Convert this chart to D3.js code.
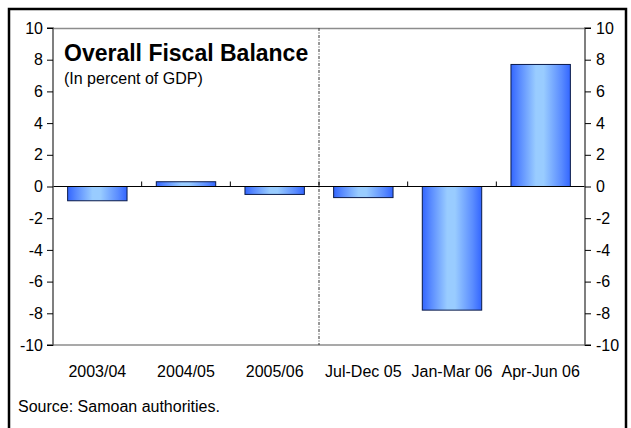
<!DOCTYPE html>
<html>
<head>
<meta charset="utf-8">
<script src="https://cdn.jsdelivr.net/npm/d3@7"></script>
<style>
  html, body { margin: 0; padding: 0; background: #fff; }
  svg { display: block; font-family: "Liberation Sans", Arial, sans-serif; }
</style>
</head>
<body>
<svg id="chart" width="631" height="428"></svg>
<script>
// Overall fiscal balance, in percent of GDP
const categories = ["2003/04", "2004/05", "2005/06", "Jul-Dec 05", "Jan-Mar 06", "Apr-Jun 06"];
const balance = [-0.9, 0.3, -0.5, -0.7, -7.8, 7.7];
const yTicks = [-10, -8, -6, -4, -2, 0, 2, 4, 6, 8, 10];

const svg = d3.select("#chart");
const plot = { left: 53, right: 585, top: 28, bottom: 345 };
const FONT = 16;

// outer frame
svg.append("rect")
  .attr("x", 9).attr("y", 9)
  .attr("width", 617).attr("height", 425)
  .attr("fill", "none").attr("stroke", "#000").attr("stroke-width", 2.5);

const x = d3.scaleBand()
  .domain(categories)
  .range([plot.left, plot.right])
  .paddingInner(0.33)
  .paddingOuter(0.165);

const y = d3.scaleLinear().domain([-10, 10]).range([plot.bottom, plot.top]);

// horizontal bar gradient: dark blue edges, light centre
const defs = svg.append("defs");
const grad = defs.append("linearGradient")
  .attr("id", "barFill").attr("x1", "0").attr("x2", "1").attr("y1", "0").attr("y2", "0");
[[0, "#3366ff"], [0.15, "#5a8cff"], [0.42, "#99ccff"], [0.55, "#99ccff"], [0.85, "#5a8cff"], [1, "#3366ff"]]
  .forEach(([o, c]) => grad.append("stop").attr("offset", o).attr("stop-color", c));

// plot frame lines (top and bottom grey)
svg.append("line")
  .attr("x1", plot.left).attr("x2", plot.right)
  .attr("y1", plot.top + 0.5).attr("y2", plot.top + 0.5)
  .attr("stroke", "#8c8c8c").attr("stroke-width", 1.5);
svg.append("line")
  .attr("x1", plot.left).attr("x2", plot.right)
  .attr("y1", plot.bottom).attr("y2", plot.bottom)
  .attr("stroke", "#8c8c8c").attr("stroke-width", 1.5);

// separator between annual and quarterly data
const sepX = plot.left + (plot.right - plot.left) / 2;
svg.append("line")
  .attr("x1", sepX).attr("x2", sepX)
  .attr("y1", plot.top).attr("y2", plot.bottom)
  .attr("stroke", "#333").attr("stroke-width", 1)
  .attr("stroke-dasharray", "3,1.5,1,1.5");

// bars
svg.append("g").selectAll("rect")
  .data(categories.map((c, i) => ({ c, v: balance[i] })))
  .join("rect")
  .attr("x", d => x(d.c))
  .attr("width", x.bandwidth())
  .attr("y", d => y(Math.max(0, d.v)))
  .attr("height", d => Math.abs(y(d.v) - y(0)))
  .attr("fill", "url(#barFill)")
  .attr("stroke", "#0a1a4a").attr("stroke-width", 1);

// zero line with category separators
svg.append("line")
  .attr("x1", plot.left).attr("x2", plot.right)
  .attr("y1", y(0)).attr("y2", y(0))
  .attr("stroke", "#000").attr("stroke-width", 1.2);
const step = x.step();
svg.append("g").selectAll("line")
  .data(d3.range(1, categories.length))
  .join("line")
  .attr("x1", i => plot.left + i * step).attr("x2", i => plot.left + i * step)
  .attr("y1", y(0)).attr("y2", y(0) - 5)
  .attr("stroke", "#000").attr("stroke-width", 1);

// y axes, left and right (plain hyphen for negatives)
const fmt = d => String(d);
const leftAxis = d3.axisLeft(y).tickValues(yTicks).tickSize(6).tickPadding(4).tickFormat(fmt);
const rightAxis = d3.axisRight(y).tickValues(yTicks).tickSize(6).tickPadding(5).tickFormat(fmt);

function styleAxis(g) {
  g.select(".domain").attr("stroke", "#555").attr("stroke-width", 1.5);
  g.selectAll(".tick line").attr("stroke", "#000");
  g.selectAll(".tick text")
    .attr("fill", "#000")
    .style("font-size", FONT + "px")
    .style("font-family", "'Liberation Sans', Arial, sans-serif");
}
svg.append("g").attr("transform", `translate(${plot.left},0)`).call(leftAxis).call(g => {
  g.select(".domain").attr("d", `M-6,${plot.top}H0V${plot.bottom}H-6`);
  styleAxis(g);
});
svg.append("g").attr("transform", `translate(${plot.right},0)`).call(rightAxis).call(g => {
  g.select(".domain").attr("d", `M6,${plot.top}H0V${plot.bottom}H6`);
  styleAxis(g);
});

// category labels
svg.append("g").selectAll("text")
  .data(categories)
  .join("text")
  .attr("x", d => x(d) + x.bandwidth() / 2)
  .attr("y", 377)
  .attr("text-anchor", "middle")
  .style("font-size", FONT + "px")
  .text(d => d);

// title block
svg.append("text")
  .attr("x", 64).attr("y", 61)
  .style("font-size", "23px").style("font-weight", "bold")
  .text("Overall Fiscal Balance");
svg.append("text")
  .attr("x", 64).attr("y", 84)
  .style("font-size", FONT + "px")
  .text("(In percent of GDP)");

// source note
svg.append("text")
  .attr("x", 18).attr("y", 412)
  .style("font-size", FONT + "px")
  .text("Source: Samoan authorities.");
</script>
</body>
</html>
